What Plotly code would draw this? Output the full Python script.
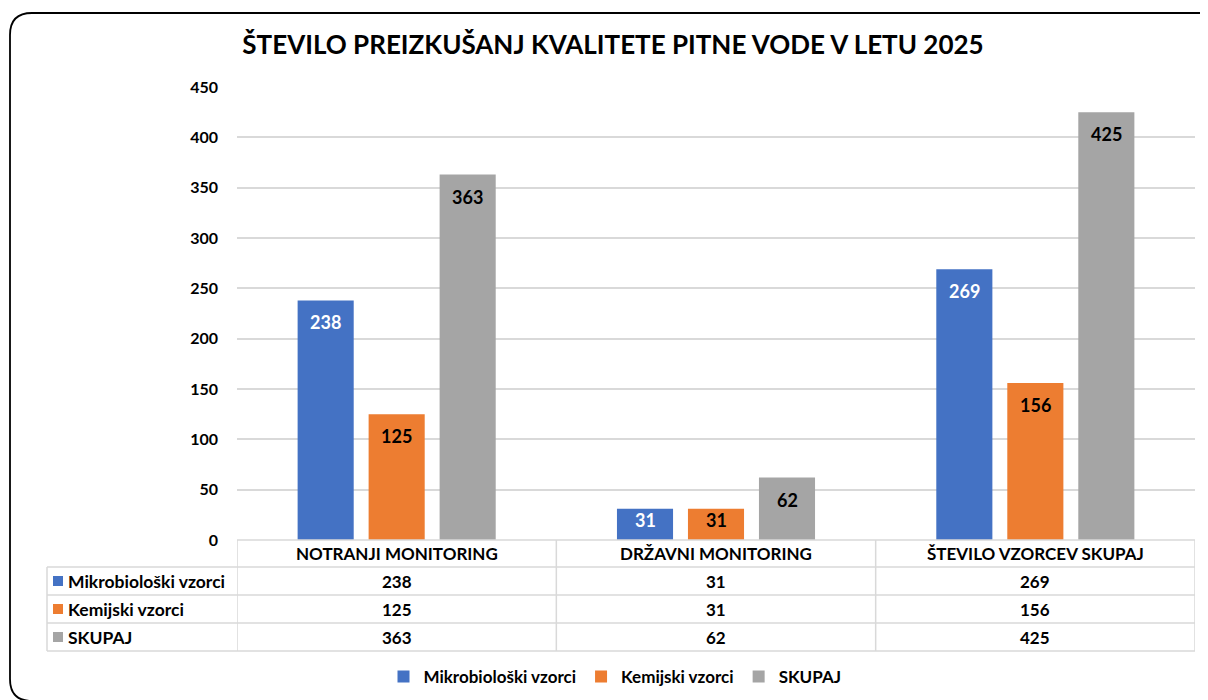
import plotly.graph_objects as go

categories = ["NOTRANJI MONITORING", "DRŽAVNI MONITORING", "ŠTEVILO VZORCEV SKUPAJ"]
series_names = ["Mikrobiološki vzorci", "Kemijski vzorci", "SKUPAJ"]
mikro = [238, 31, 269]
kemijski = [125, 31, 156]
skupaj = [363, 62, 425]
colors = ["#4472C4", "#ED7D31", "#A5A5A5"]
label_colors = ["white", "black", "black"]
y_ticks = [0, 50, 100, 150, 200, 250, 300, 350, 400, 450]
title_text = "ŠTEVILO PREIZKUŠANJ KVALITETE PITNE VODE V LETU 2025"

series_values = [mikro, kemijski, skupaj]

OFF = 8  # page body margin in the browser
SW, SH = 1208, 700
W, H = SW - OFF, SH - OFF
# plot area in screen pixels
X0, X1, Y0, Y1 = 237, 1195, 87, 540
L, R, T, B = X0 - OFF, SW - X1, Y0 - OFF, SH - Y1
PW, PH = W - L - R, H - T - B
FONT = "Lato"
GRID = "#D9D9D9"
BARGAP = 0.333
YMAX = 450


def px_x(px):
    return (px - X0) / PW


def px_y(py):
    return (Y1 - py) / PH


fig = go.Figure()
for name, vals, col in zip(series_names, series_values, colors):
    fig.add_trace(go.Bar(
        name=f"<b>{name}</b>", x=categories, y=vals,
        marker=dict(color=col, line=dict(width=0)),
        hovertemplate=name + ": %{y}<extra>%{x}</extra>",
    ))

annotations = []
shapes = []

# data labels inside bars near top (kept inside short bars)
n = len(series_values)
slot = (1 - BARGAP) / n
for si, (vals, lc) in enumerate(zip(series_values, label_colors)):
    off = (si - (n - 1) / 2) * slot
    for ci, v in enumerate(vals):
        bar_px = v * PH / YMAX
        shift = min(22, bar_px - 20)
        annotations.append(dict(
            x=ci + off, y=v, xref="x", yref="y", text=f"<b>{v}</b>", showarrow=False,
            yshift=-shift, font=dict(family=FONT, size=18, color=lc),
        ))

# data table
row_y = [581, 609, 637]
header_y = 553.5
TFS = 17
for ci, cat in enumerate(categories):
    annotations.append(dict(
        x=ci, y=px_y(header_y), xref="x", yref="paper", text=f"<b>{cat}</b>",
        showarrow=False, font=dict(family=FONT, size=TFS, color="black"),
        yanchor="middle",
    ))
for si, (name, vals, col) in enumerate(zip(series_names, series_values, colors)):
    ry = row_y[si]
    annotations.append(dict(
        x=px_x(66), y=px_y(ry), xref="paper", yref="paper", text=f"<b>{name}</b>",
        showarrow=False, xanchor="left", yanchor="middle",
        font=dict(family=FONT, size=TFS + 0.5, color="black"),
    ))
    shapes.append(dict(
        type="rect", xref="paper", yref="paper",
        x0=px_x(53), x1=px_x(63), y0=px_y(ry + 5), y1=px_y(ry - 5),
        fillcolor=col, line=dict(width=0),
    ))
    for ci, v in enumerate(vals):
        annotations.append(dict(
            x=ci, y=px_y(ry), xref="x", yref="paper", text=f"<b>{v}</b>",
            showarrow=False, yanchor="middle",
            font=dict(family=FONT, size=TFS, color="black"),
        ))

line = dict(color=GRID, width=1.5)
# horizontal table lines
shapes.append(dict(type="line", xref="paper", yref="paper", x0=0, x1=1,
                   y0=px_y(540), y1=px_y(540), line=line))
for py in [567, 595, 623, 651]:
    shapes.append(dict(type="line", xref="paper", yref="paper", x0=px_x(47), x1=1,
                       y0=px_y(py), y1=px_y(py), line=line))
# vertical table lines
shapes.append(dict(type="line", xref="paper", yref="paper", x0=px_x(47), x1=px_x(47),
                   y0=px_y(567), y1=px_y(651), line=line))
for xb in [-0.5, 0.5, 1.5, 2.5]:
    shapes.append(dict(type="line", xref="x", yref="paper", x0=xb, x1=xb,
                       y0=px_y(540), y1=px_y(651), line=line))

# rounded outer frame
fx0, fy0, fx1, fy1, rad = 10, 13, 1226, 701, 22
path = (
    f"M {px_x(fx0 + rad)} {px_y(fy0)} L {px_x(fx1 - rad)} {px_y(fy0)} "
    f"Q {px_x(fx1)} {px_y(fy0)} {px_x(fx1)} {px_y(fy0 + rad)} "
    f"L {px_x(fx1)} {px_y(fy1 - rad)} Q {px_x(fx1)} {px_y(fy1)} {px_x(fx1 - rad)} {px_y(fy1)} "
    f"L {px_x(fx0 + rad)} {px_y(fy1)} Q {px_x(fx0)} {px_y(fy1)} {px_x(fx0)} {px_y(fy1 - rad)} "
    f"L {px_x(fx0)} {px_y(fy0 + rad)} Q {px_x(fx0)} {px_y(fy0)} {px_x(fx0 + rad)} {px_y(fy0)} Z"
)
shapes.append(dict(type="path", xref="paper", yref="paper", path=path,
                   line=dict(color="black", width=1.8), layer="above"))

fig.update_layout(
    width=W, height=H,
    margin=dict(l=L, r=R, t=T, b=B),
    paper_bgcolor="white", plot_bgcolor="white",
    barmode="group", bargap=BARGAP, bargroupgap=0.21,
    title=dict(text=f"<b>{title_text}</b>", x=(613 - OFF) / W, xanchor="center",
               y=1 - (45 - OFF) / H, yanchor="middle",
               font=dict(family=FONT, size=26, color="black")),
    font=dict(family=FONT, color="black"),
    xaxis=dict(range=[-0.5, 2.5], showticklabels=False, showgrid=False,
               zeroline=False, showline=False, ticks=""),
    yaxis=dict(range=[0, YMAX], tickvals=y_ticks, ticktext=[f"<b>{t}</b>" for t in y_ticks],
               showgrid=True, gridcolor=GRID, gridwidth=1.5, zeroline=False,
               showline=False, ticks="", ticklabelstandoff=18,
               tickfont=dict(family=FONT, size=16, color="black")),
    legend=dict(orientation="h", xref="container", yref="container",
                x=(615 - OFF) / W, xanchor="center", y=(SH - 677) / H, yanchor="middle",
                font=dict(family=FONT, size=17, color="black"),
                itemwidth=30, bgcolor="rgba(0,0,0,0)"),
    annotations=annotations,
    shapes=shapes,
)

fig.write_html("out.html")
